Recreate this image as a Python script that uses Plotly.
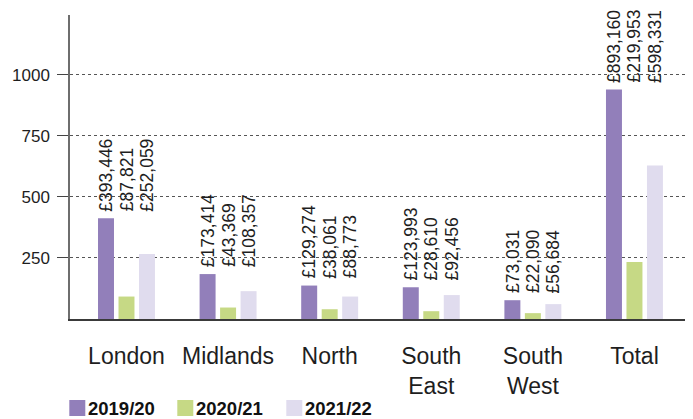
import plotly.graph_objects as go

categories = ["London", "Midlands", "North", "South East", "South West", "Total"]
tick_text = ["London", "Midlands", "North", "South<br>East", "South<br>West", "Total"]
series_names = ["2019/20", "2020/21", "2021/22"]
values_1920 = [413, 184, 137, 130, 77, 940]
values_2021 = [92, 47, 40, 32, 24, 233]
values_2122 = [266, 114, 92, 98, 61, 629]
labels_1920 = ["£393,446", "£173,414", "£129,274", "£123,993", "£73,031", "£893,160"]
labels_2021 = ["£87,821", "£43,369", "£38,061", "£28,610", "£22,090", "£219,953"]
labels_2122 = ["£252,059", "£108,357", "£88,773", "£92,456", "£56,684", "£598,331"]
y_ticks = [250, 500, 750, 1000]

colors = ["#927fba", "#c6d985", "#e0dcee"]
FONT = "Liberation Sans, Arial, sans-serif"
TXT = "#1e1e1e"

series = [values_1920, values_2021, values_2122]
labels = [labels_1920, labels_2021, labels_2122]

fig = go.Figure()
for name, vals, col in zip(series_names, series, colors):
    fig.add_trace(go.Bar(x=categories, y=vals, name=name, marker_color=col,
                         marker_line_width=0, showlegend=False))

annotations = []
offsets = [-20.5, 0, 20.5]
for i, cat in enumerate(categories):
    top = max(s[i] for s in series)
    for k in range(3):
        annotations.append(dict(
            x=cat, y=top, xref="x", yref="y", xshift=offsets[k], yshift=6,
            text=labels[k][i], textangle=-90, showarrow=False,
            xanchor="center", yanchor="bottom", borderpad=0,
            font=dict(family=FONT, size=17.5, color=TXT)))

# manual legend
shapes = []
leg_x = [0, 108, 217]
for k, (name, col) in enumerate(zip(series_names, colors)):
    x0 = -0.7 + leg_x[k]
    shapes.append(dict(type="rect", xref="paper", yref="paper",
                       xsizemode="pixel", ysizemode="pixel",
                       xanchor=0, yanchor=0,
                       x0=x0, x1=x0 + 16, y0=-81, y1=-97,
                       fillcolor=col, line_width=0))
    annotations.append(dict(
        x=0, y=0, xref="paper", yref="paper", xshift=x0 + 18, yshift=-89,
        text="<b>" + name + "</b>", showarrow=False,
        xanchor="left", yanchor="middle", borderpad=0,
        font=dict(family=FONT, size=18.5, color="#111111")))

fig.update_layout(
    width=693, height=419,
    margin=dict(l=62, r=13, t=7, b=108),
    paper_bgcolor="white", plot_bgcolor="white",
    barmode="group", bargap=0.395, bargroupgap=0.22,
    annotations=annotations, shapes=shapes,
    font=dict(family=FONT, color=TXT),
)
fig.update_xaxes(
    range=[-0.556, 5.527], tickmode="array", tickvals=categories, ticktext=tick_text,
    showline=True, linecolor="#3a3a3a", linewidth=2, showgrid=False,
    ticks="", tickfont=dict(family=FONT, size=23, color=TXT),
    ticklabelstandoff=15, fixedrange=True, automargin=False,
)
fig.update_yaxes(
    range=[0, 1245], tickmode="array", tickvals=y_ticks, tickformat="d",
    showline=True, linecolor="#6e6e6e", linewidth=1.5,
    showgrid=True, gridcolor="#555555", gridwidth=1, griddash="dot",
    ticks="outside", ticklen=11, tickcolor="#444444", tickwidth=1,
    tickfont=dict(family=FONT, size=17, color=TXT),
    ticklabelstandoff=4, zeroline=False, fixedrange=True, automargin=False,
)

fig.write_html("out.html")
